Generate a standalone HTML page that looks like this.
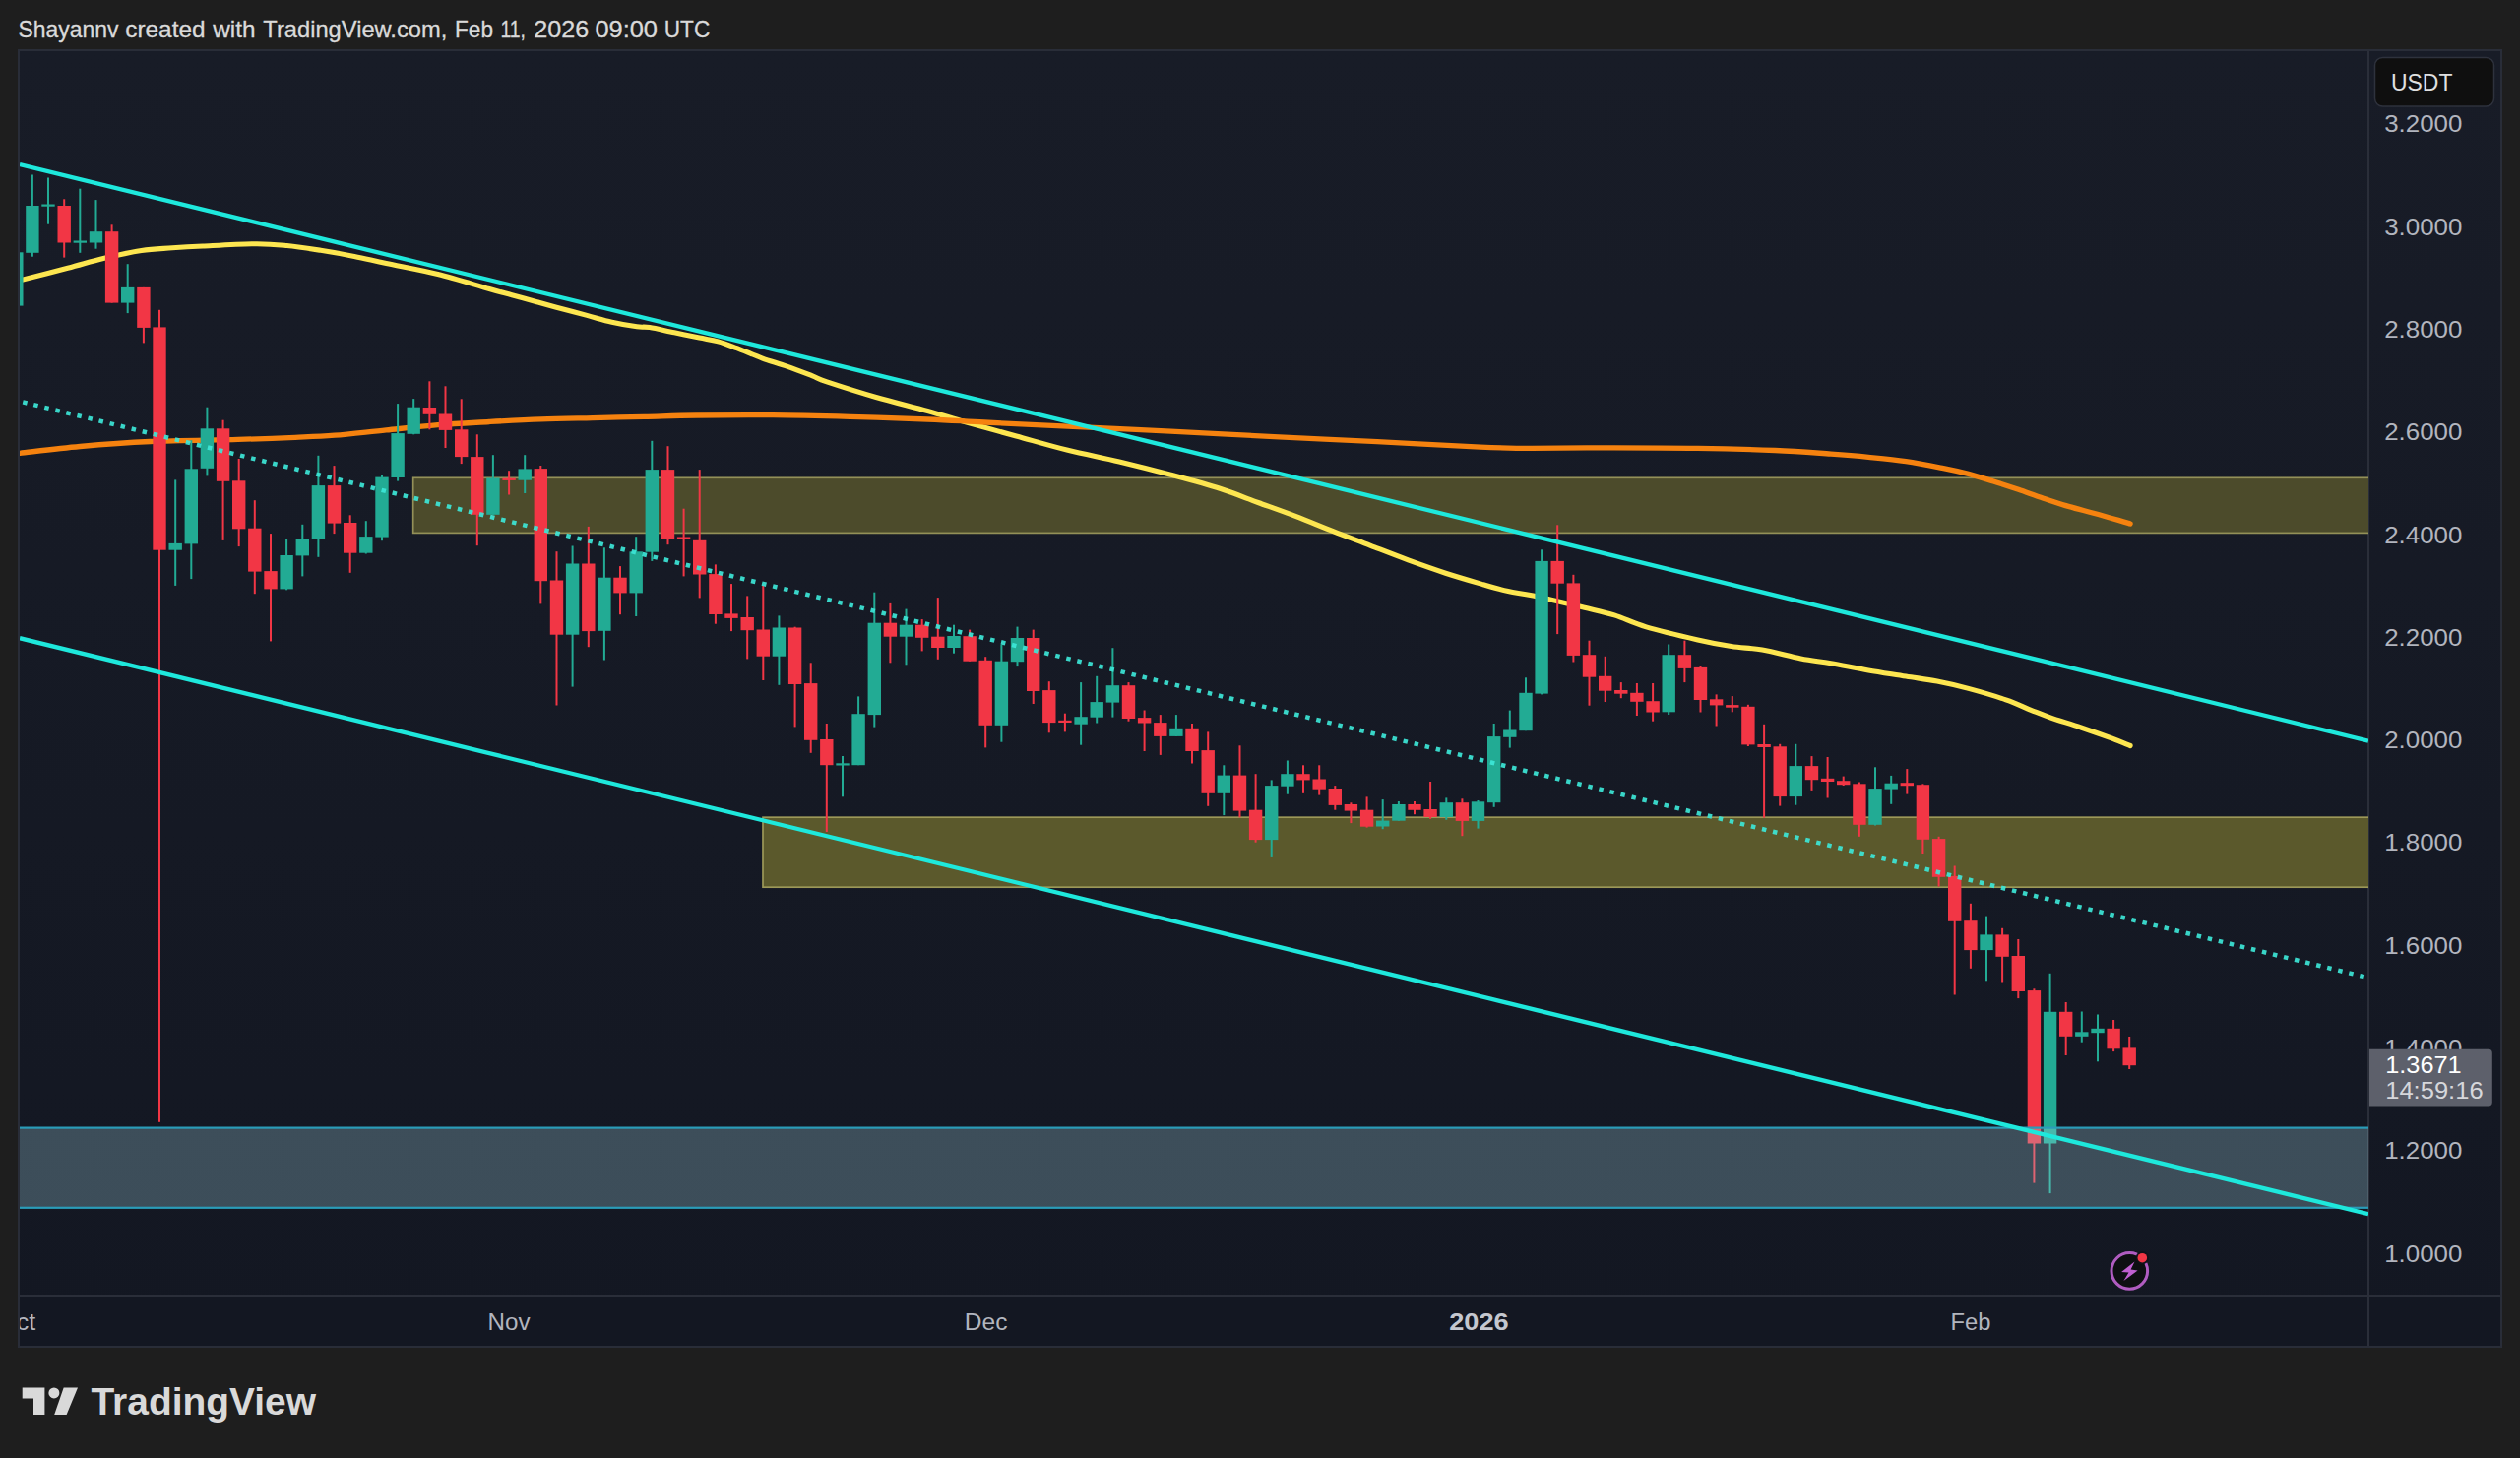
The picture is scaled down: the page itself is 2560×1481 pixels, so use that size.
<!DOCTYPE html>
<html lang="en">
<head>
<meta charset="utf-8">
<title>XRP / USDT chart</title>
<style>
html,body{margin:0;padding:0;background:#1e1e1e;}
body{width:2560px;height:1481px;overflow:hidden;font-family:"Liberation Sans",sans-serif;}
svg{display:block;}
text{font-family:"Liberation Sans",sans-serif;}
</style>
</head>
<body>
<svg width="2560" height="1481" viewBox="0 0 2560 1481">
<defs>
<linearGradient id="bg" x1="0" y1="0" x2="0" y2="1">
<stop offset="0" stop-color="#181c27"/>
<stop offset="1" stop-color="#131722"/>
</linearGradient>
<clipPath id="pane"><rect x="20" y="52" width="2386" height="1264"/></clipPath>
</defs>
<rect x="0" y="0" width="2560" height="1481" fill="#1e1e1e"/>
<!-- header -->
<g font-size="23.6" fill="#dadada" stroke="#dadada" stroke-width="0.3">
<text x="18.5" y="37.8" textLength="102" lengthAdjust="spacingAndGlyphs">Shayannv</text>
<text x="127.2" y="37.8" textLength="81.4" lengthAdjust="spacingAndGlyphs">created</text>
<text x="216.2" y="37.8" textLength="43.3" lengthAdjust="spacingAndGlyphs">with</text>
<text x="267.3" y="37.8" textLength="187" lengthAdjust="spacingAndGlyphs">TradingView.com,</text>
<text x="462" y="37.8" textLength="39" lengthAdjust="spacingAndGlyphs">Feb</text>
<text x="508.5" y="37.8" textLength="25.5" lengthAdjust="spacingAndGlyphs">11,</text>
<text x="542.2" y="37.8" textLength="56" lengthAdjust="spacingAndGlyphs">2026</text>
<text x="604.4" y="37.8" textLength="63.6" lengthAdjust="spacingAndGlyphs">09:00</text>
<text x="674.8" y="37.8" textLength="46.4" lengthAdjust="spacingAndGlyphs">UTC</text>
</g>
<!-- chart frame -->
<rect x="19" y="51" width="2522" height="1317" fill="url(#bg)" stroke="#292d38" stroke-width="2"/>
<rect x="20" y="1316" width="2520" height="51" fill="#131722"/>
<line x1="20" y1="1316" x2="2540" y2="1316" stroke="#2a2e39" stroke-width="2"/>
<line x1="2406" y1="52" x2="2406" y2="1367" stroke="#2a2e39" stroke-width="2"/>

<g clip-path="url(#pane)">
<!-- yellow zones (behind candles) -->
<rect x="419.7" y="485.3" width="1990" height="56.1" fill="#4c4b2b" stroke="#939058" stroke-width="1.7"/>
<rect x="775" y="830.2" width="1640" height="71" fill="#5b592c" stroke="#9c9858" stroke-width="1.7"/>
<!-- MAs -->
<path d="M20.0 284.8C28.1 282.7 54.6 276.0 68.8 272.3C83.0 268.6 92.5 265.5 105.0 262.5C117.5 259.5 132.0 256.3 143.7 254.5C155.4 252.7 164.6 252.6 175.0 251.8C185.4 251.1 191.9 250.7 206.0 250.0C220.1 249.3 245.4 247.8 259.6 247.7C273.9 247.6 280.5 248.4 291.5 249.5C302.5 250.6 314.4 252.5 325.8 254.3C337.2 256.1 348.9 258.2 360.0 260.4C371.1 262.6 378.3 264.5 392.4 267.5C406.5 270.5 427.4 274.2 444.8 278.5C462.2 282.8 484.6 290.0 497.1 293.5C509.6 297.0 511.9 297.5 520.0 299.7C528.0 301.9 538.0 304.6 545.4 306.7C552.8 308.8 555.9 309.7 564.4 312.0C572.9 314.3 586.7 317.9 596.2 320.4C605.7 322.9 613.1 325.3 621.6 327.2C630.1 329.1 640.6 330.9 647.0 331.8C653.4 332.7 653.6 331.6 660.0 332.6C666.4 333.6 676.7 336.1 685.1 337.8C693.5 339.6 703.1 341.6 710.5 343.1C717.9 344.6 723.1 345.1 729.5 346.9C735.9 348.7 741.2 350.9 748.6 353.7C756.0 356.5 765.5 360.7 774.0 363.8C782.5 366.9 790.9 369.1 799.4 372.1C807.9 375.1 818.0 379.0 824.8 381.6C831.6 384.2 829.1 384.2 840.0 387.9C850.9 391.5 872.9 398.6 890.0 403.5C907.1 408.4 927.4 413.3 942.4 417.5C957.4 421.7 965.0 424.2 980.0 428.5C995.0 432.8 1014.9 438.2 1032.4 443.0C1049.9 447.8 1067.3 453.0 1084.8 457.3C1102.2 461.6 1119.6 464.8 1137.1 469.0C1154.5 473.2 1172.3 477.7 1189.5 482.3C1206.7 486.9 1225.2 491.8 1240.0 496.5C1254.8 501.2 1265.4 505.9 1278.1 510.5C1290.8 515.1 1303.5 519.5 1316.2 524.4C1328.9 529.3 1341.6 534.7 1354.3 539.7C1367.0 544.7 1379.7 549.4 1392.4 554.3C1405.1 559.2 1417.8 564.2 1430.5 568.9C1443.2 573.5 1455.9 578.1 1468.6 582.2C1481.3 586.3 1496.1 590.6 1506.7 593.7C1517.3 596.8 1523.6 598.7 1532.1 600.6C1540.6 602.5 1544.8 602.4 1557.5 605.1C1570.2 607.8 1594.8 613.7 1608.6 617.0C1622.3 620.3 1629.4 621.6 1640.0 624.9C1650.6 628.2 1658.3 632.7 1672.4 636.9C1686.5 641.1 1710.4 646.7 1724.8 650.0C1739.2 653.3 1747.9 654.9 1758.8 656.6C1769.7 658.3 1778.4 658.0 1790.2 660.0C1802.0 662.0 1817.9 666.6 1829.5 668.9C1841.1 671.2 1848.6 671.7 1860.0 673.7C1871.4 675.7 1885.4 678.7 1898.1 680.9C1910.8 683.1 1924.6 685.1 1936.2 687.0C1947.8 688.9 1957.3 690.0 1967.9 692.1C1978.5 694.2 1988.1 696.3 1999.7 699.4C2011.3 702.5 2027.2 707.2 2037.8 710.9C2048.4 714.5 2055.8 718.3 2063.2 721.3C2070.6 724.2 2073.7 725.6 2082.2 728.6C2090.7 731.6 2103.4 735.4 2114.0 739.0C2124.6 742.6 2137.3 747.1 2145.7 750.2C2154.0 753.3 2161.0 756.3 2164.1 757.5" fill="none" stroke="#fde650" stroke-width="5.1" stroke-linecap="round" stroke-linejoin="round"/>
<path d="M20.0 460.3C30.2 459.2 59.2 455.5 81.3 453.5C103.4 451.5 125.8 449.7 152.6 448.5C179.3 447.3 217.2 447.1 241.8 446.4C266.4 445.7 283.6 445.0 300.0 444.3C316.4 443.6 324.6 443.4 340.0 442.2C355.4 441.0 374.9 438.6 392.4 436.9C409.9 435.1 427.4 433.1 444.8 431.7C462.2 430.3 479.7 429.5 497.1 428.5C514.6 427.5 532.0 426.5 549.5 425.9C567.0 425.2 584.4 425.0 601.9 424.6C619.4 424.2 636.8 423.7 654.3 423.3C671.8 422.9 684.9 422.3 706.7 422.0C728.5 421.7 759.1 421.5 785.3 421.7C811.5 421.9 837.6 422.6 863.8 423.3C890.0 424.0 919.7 425.1 942.4 426.0C965.1 426.9 976.3 427.8 1000.0 429.0C1023.7 430.2 1053.2 431.7 1084.8 433.2C1116.4 434.7 1154.6 436.4 1189.5 438.1C1224.4 439.8 1259.4 441.9 1294.3 443.6C1329.2 445.4 1364.2 446.9 1399.1 448.6C1434.0 450.4 1477.6 453.0 1503.8 454.1C1530.0 455.2 1533.5 455.3 1556.2 455.4C1578.9 455.5 1611.9 454.8 1640.0 454.8C1668.1 454.8 1697.6 454.9 1724.8 455.4C1752.0 455.8 1780.8 456.6 1803.3 457.5C1825.8 458.4 1844.2 460.0 1860.0 461.1C1875.8 462.2 1885.4 463.0 1898.1 464.3C1910.8 465.6 1923.5 466.8 1936.2 468.7C1948.9 470.6 1963.7 473.6 1974.3 475.7C1984.9 477.8 1991.2 479.2 1999.7 481.4C2008.2 483.6 2016.6 486.4 2025.1 489.0C2033.6 491.6 2042.0 494.4 2050.5 497.3C2059.0 500.2 2067.4 503.4 2075.9 506.2C2084.4 509.0 2092.8 511.9 2101.3 514.4C2109.8 516.9 2118.2 518.9 2126.7 521.2C2135.2 523.5 2145.9 526.6 2152.1 528.4C2158.3 530.2 2162.1 531.4 2164.1 532.0" fill="none" stroke="#f5820f" stroke-width="5.3" stroke-linecap="round" stroke-linejoin="round"/>
<!-- candles -->
<rect x="10.1" y="256.3" width="13.4" height="54.3" fill="#22ab94"/>
<rect x="31.9" y="177.5" width="2.0" height="83.2" fill="#22ab94"/>
<rect x="26.2" y="209.0" width="13.4" height="47.8" fill="#22ab94"/>
<rect x="48.0" y="180.5" width="2.0" height="47.2" fill="#22ab94"/>
<rect x="42.3" y="207.5" width="13.4" height="2.2" fill="#22ab94"/>
<rect x="64.2" y="202.3" width="2.0" height="59.3" fill="#f23645"/>
<rect x="58.5" y="209.0" width="13.4" height="37.5" fill="#f23645"/>
<rect x="80.3" y="191.7" width="2.0" height="65.1" fill="#22ab94"/>
<rect x="74.6" y="244.5" width="13.4" height="2.2" fill="#22ab94"/>
<rect x="96.5" y="203.1" width="2.0" height="49.6" fill="#22ab94"/>
<rect x="90.8" y="235.2" width="13.4" height="11.3" fill="#22ab94"/>
<rect x="112.6" y="228.3" width="2.0" height="79.3" fill="#f23645"/>
<rect x="106.9" y="235.2" width="13.4" height="72.4" fill="#f23645"/>
<rect x="128.7" y="268.2" width="2.0" height="49.9" fill="#22ab94"/>
<rect x="123.0" y="291.9" width="13.4" height="15.7" fill="#22ab94"/>
<rect x="144.9" y="291.9" width="2.0" height="56.5" fill="#f23645"/>
<rect x="139.2" y="291.9" width="13.4" height="41.0" fill="#f23645"/>
<rect x="161.0" y="314.8" width="2.0" height="825.0" fill="#f23645"/>
<rect x="155.3" y="332.4" width="13.4" height="226.3" fill="#f23645"/>
<rect x="177.2" y="487.4" width="2.0" height="107.5" fill="#22ab94"/>
<rect x="171.5" y="551.9" width="13.4" height="6.8" fill="#22ab94"/>
<rect x="193.3" y="447.2" width="2.0" height="140.9" fill="#22ab94"/>
<rect x="187.6" y="476.3" width="13.4" height="76.1" fill="#22ab94"/>
<rect x="209.4" y="413.7" width="2.0" height="69.7" fill="#22ab94"/>
<rect x="203.7" y="435.3" width="13.4" height="40.5" fill="#22ab94"/>
<rect x="225.6" y="426.7" width="2.0" height="122.2" fill="#f23645"/>
<rect x="219.9" y="435.3" width="13.4" height="53.5" fill="#f23645"/>
<rect x="241.7" y="466.0" width="2.0" height="89.1" fill="#f23645"/>
<rect x="236.0" y="488.3" width="13.4" height="49.0" fill="#f23645"/>
<rect x="257.8" y="508.2" width="2.0" height="95.0" fill="#f23645"/>
<rect x="252.1" y="536.7" width="13.4" height="43.9" fill="#f23645"/>
<rect x="274.0" y="542.1" width="2.0" height="109.3" fill="#f23645"/>
<rect x="268.3" y="580.1" width="13.4" height="18.3" fill="#f23645"/>
<rect x="290.1" y="547.1" width="2.0" height="52.2" fill="#22ab94"/>
<rect x="284.4" y="564.0" width="13.4" height="34.4" fill="#22ab94"/>
<rect x="306.3" y="532.8" width="2.0" height="52.6" fill="#22ab94"/>
<rect x="300.6" y="547.1" width="13.4" height="17.3" fill="#22ab94"/>
<rect x="322.4" y="462.8" width="2.0" height="103.0" fill="#22ab94"/>
<rect x="316.7" y="493.1" width="13.4" height="54.5" fill="#22ab94"/>
<rect x="338.5" y="473.1" width="2.0" height="69.0" fill="#f23645"/>
<rect x="332.8" y="493.1" width="13.4" height="38.5" fill="#f23645"/>
<rect x="354.7" y="523.3" width="2.0" height="58.5" fill="#f23645"/>
<rect x="349.0" y="531.0" width="13.4" height="30.7" fill="#f23645"/>
<rect x="370.8" y="529.2" width="2.0" height="33.3" fill="#22ab94"/>
<rect x="365.1" y="545.1" width="13.4" height="16.6" fill="#22ab94"/>
<rect x="387.0" y="482.0" width="2.0" height="67.2" fill="#22ab94"/>
<rect x="381.3" y="484.6" width="13.4" height="61.0" fill="#22ab94"/>
<rect x="403.1" y="410.1" width="2.0" height="78.5" fill="#22ab94"/>
<rect x="397.4" y="440.1" width="13.4" height="44.9" fill="#22ab94"/>
<rect x="419.2" y="405.1" width="2.0" height="36.2" fill="#22ab94"/>
<rect x="413.5" y="413.7" width="13.4" height="27.1" fill="#22ab94"/>
<rect x="435.4" y="387.3" width="2.0" height="49.0" fill="#f23645"/>
<rect x="429.7" y="414.0" width="13.4" height="6.8" fill="#f23645"/>
<rect x="451.5" y="392.3" width="2.0" height="62.7" fill="#f23645"/>
<rect x="445.8" y="420.5" width="13.4" height="16.4" fill="#f23645"/>
<rect x="467.7" y="405.3" width="2.0" height="65.8" fill="#f23645"/>
<rect x="462.0" y="436.3" width="13.4" height="27.8" fill="#f23645"/>
<rect x="483.8" y="441.3" width="2.0" height="112.9" fill="#f23645"/>
<rect x="478.1" y="464.1" width="13.4" height="58.7" fill="#f23645"/>
<rect x="499.9" y="462.2" width="2.0" height="60.6" fill="#22ab94"/>
<rect x="494.2" y="485.5" width="13.4" height="37.3" fill="#22ab94"/>
<rect x="516.1" y="478.2" width="2.0" height="24.3" fill="#f23645"/>
<rect x="510.4" y="485.7" width="13.4" height="2.2" fill="#f23645"/>
<rect x="532.2" y="462.2" width="2.0" height="38.8" fill="#22ab94"/>
<rect x="526.5" y="476.4" width="13.4" height="11.3" fill="#22ab94"/>
<rect x="548.3" y="473.0" width="2.0" height="140.4" fill="#f23645"/>
<rect x="542.6" y="476.1" width="13.4" height="114.1" fill="#f23645"/>
<rect x="564.5" y="560.2" width="2.0" height="156.3" fill="#f23645"/>
<rect x="558.8" y="589.5" width="13.4" height="55.2" fill="#f23645"/>
<rect x="580.6" y="554.5" width="2.0" height="143.1" fill="#22ab94"/>
<rect x="574.9" y="572.5" width="13.4" height="72.2" fill="#22ab94"/>
<rect x="596.8" y="534.9" width="2.0" height="122.3" fill="#f23645"/>
<rect x="591.1" y="572.5" width="13.4" height="68.6" fill="#f23645"/>
<rect x="612.9" y="556.3" width="2.0" height="114.2" fill="#22ab94"/>
<rect x="607.2" y="586.7" width="13.4" height="54.1" fill="#22ab94"/>
<rect x="629.0" y="575.1" width="2.0" height="49.1" fill="#f23645"/>
<rect x="623.3" y="586.7" width="13.4" height="15.7" fill="#f23645"/>
<rect x="645.2" y="545.2" width="2.0" height="80.8" fill="#22ab94"/>
<rect x="639.5" y="560.3" width="13.4" height="42.1" fill="#22ab94"/>
<rect x="661.3" y="447.8" width="2.0" height="122.1" fill="#22ab94"/>
<rect x="655.6" y="477.1" width="13.4" height="83.6" fill="#22ab94"/>
<rect x="677.5" y="453.2" width="2.0" height="100.0" fill="#f23645"/>
<rect x="671.8" y="477.1" width="13.4" height="70.6" fill="#f23645"/>
<rect x="693.6" y="516.7" width="2.0" height="68.7" fill="#f23645"/>
<rect x="687.9" y="545.5" width="13.4" height="2.2" fill="#f23645"/>
<rect x="709.7" y="477.1" width="2.0" height="130.3" fill="#f23645"/>
<rect x="704.0" y="548.8" width="13.4" height="34.7" fill="#f23645"/>
<rect x="725.9" y="573.4" width="2.0" height="60.3" fill="#f23645"/>
<rect x="720.2" y="583.1" width="13.4" height="40.9" fill="#f23645"/>
<rect x="742.0" y="593.1" width="2.0" height="48.0" fill="#f23645"/>
<rect x="736.3" y="623.4" width="13.4" height="4.5" fill="#f23645"/>
<rect x="758.2" y="605.4" width="2.0" height="64.0" fill="#f23645"/>
<rect x="752.5" y="627.0" width="13.4" height="13.2" fill="#f23645"/>
<rect x="774.3" y="594.0" width="2.0" height="97.0" fill="#f23645"/>
<rect x="768.6" y="639.5" width="13.4" height="27.2" fill="#f23645"/>
<rect x="790.4" y="625.4" width="2.0" height="70.4" fill="#22ab94"/>
<rect x="784.7" y="637.5" width="13.4" height="29.2" fill="#22ab94"/>
<rect x="806.6" y="636.7" width="2.0" height="101.7" fill="#f23645"/>
<rect x="800.9" y="637.5" width="13.4" height="57.5" fill="#f23645"/>
<rect x="822.7" y="673.3" width="2.0" height="91.5" fill="#f23645"/>
<rect x="817.0" y="694.1" width="13.4" height="57.7" fill="#f23645"/>
<rect x="838.8" y="735.0" width="2.0" height="110.0" fill="#f23645"/>
<rect x="833.1" y="751.0" width="13.4" height="26.2" fill="#f23645"/>
<rect x="855.0" y="768.0" width="2.0" height="41.3" fill="#22ab94"/>
<rect x="849.3" y="775.3" width="13.4" height="2.2" fill="#22ab94"/>
<rect x="871.1" y="707.4" width="2.0" height="69.8" fill="#22ab94"/>
<rect x="865.4" y="725.2" width="13.4" height="52.0" fill="#22ab94"/>
<rect x="887.3" y="601.7" width="2.0" height="136.9" fill="#22ab94"/>
<rect x="881.6" y="632.7" width="13.4" height="93.4" fill="#22ab94"/>
<rect x="903.4" y="612.9" width="2.0" height="60.4" fill="#f23645"/>
<rect x="897.7" y="632.7" width="13.4" height="14.0" fill="#f23645"/>
<rect x="919.5" y="618.6" width="2.0" height="56.7" fill="#22ab94"/>
<rect x="913.8" y="634.7" width="13.4" height="12.0" fill="#22ab94"/>
<rect x="935.7" y="629.1" width="2.0" height="32.3" fill="#f23645"/>
<rect x="930.0" y="634.7" width="13.4" height="13.1" fill="#f23645"/>
<rect x="951.8" y="607.1" width="2.0" height="62.7" fill="#f23645"/>
<rect x="946.1" y="646.7" width="13.4" height="11.3" fill="#f23645"/>
<rect x="968.0" y="634.7" width="2.0" height="29.0" fill="#22ab94"/>
<rect x="962.3" y="646.0" width="13.4" height="12.0" fill="#22ab94"/>
<rect x="984.1" y="639.6" width="2.0" height="32.1" fill="#f23645"/>
<rect x="978.4" y="646.2" width="13.4" height="25.5" fill="#f23645"/>
<rect x="1000.2" y="667.2" width="2.0" height="92.2" fill="#f23645"/>
<rect x="994.5" y="670.8" width="13.4" height="66.0" fill="#f23645"/>
<rect x="1016.4" y="654.8" width="2.0" height="98.9" fill="#22ab94"/>
<rect x="1010.7" y="671.7" width="13.4" height="65.1" fill="#22ab94"/>
<rect x="1032.5" y="636.6" width="2.0" height="40.5" fill="#22ab94"/>
<rect x="1026.8" y="648.0" width="13.4" height="24.2" fill="#22ab94"/>
<rect x="1048.7" y="639.6" width="2.0" height="75.4" fill="#f23645"/>
<rect x="1043.0" y="648.0" width="13.4" height="54.0" fill="#f23645"/>
<rect x="1064.8" y="692.2" width="2.0" height="52.1" fill="#f23645"/>
<rect x="1059.1" y="701.1" width="13.4" height="33.0" fill="#f23645"/>
<rect x="1080.9" y="724.7" width="2.0" height="18.7" fill="#f23645"/>
<rect x="1075.2" y="731.8" width="13.4" height="2.2" fill="#f23645"/>
<rect x="1097.1" y="693.1" width="2.0" height="63.6" fill="#22ab94"/>
<rect x="1091.4" y="728.2" width="13.4" height="7.5" fill="#22ab94"/>
<rect x="1113.2" y="686.8" width="2.0" height="47.7" fill="#22ab94"/>
<rect x="1107.5" y="713.1" width="13.4" height="15.6" fill="#22ab94"/>
<rect x="1129.4" y="658.2" width="2.0" height="70.4" fill="#22ab94"/>
<rect x="1123.7" y="696.2" width="13.4" height="17.4" fill="#22ab94"/>
<rect x="1145.5" y="693.1" width="2.0" height="39.6" fill="#f23645"/>
<rect x="1139.8" y="696.2" width="13.4" height="33.8" fill="#f23645"/>
<rect x="1161.6" y="721.5" width="2.0" height="41.5" fill="#f23645"/>
<rect x="1155.9" y="729.1" width="13.4" height="5.4" fill="#f23645"/>
<rect x="1177.8" y="726.1" width="2.0" height="40.8" fill="#f23645"/>
<rect x="1172.1" y="734.1" width="13.4" height="13.8" fill="#f23645"/>
<rect x="1193.9" y="726.1" width="2.0" height="21.8" fill="#22ab94"/>
<rect x="1188.2" y="739.8" width="13.4" height="8.1" fill="#22ab94"/>
<rect x="1210.0" y="735.0" width="2.0" height="40.5" fill="#f23645"/>
<rect x="1204.3" y="739.8" width="13.4" height="23.2" fill="#f23645"/>
<rect x="1226.2" y="743.4" width="2.0" height="75.4" fill="#f23645"/>
<rect x="1220.5" y="762.1" width="13.4" height="43.7" fill="#f23645"/>
<rect x="1242.3" y="777.3" width="2.0" height="50.8" fill="#22ab94"/>
<rect x="1236.6" y="787.6" width="13.4" height="18.2" fill="#22ab94"/>
<rect x="1258.5" y="757.3" width="2.0" height="73.1" fill="#f23645"/>
<rect x="1252.8" y="787.6" width="13.4" height="36.0" fill="#f23645"/>
<rect x="1274.6" y="786.2" width="2.0" height="69.5" fill="#f23645"/>
<rect x="1268.9" y="822.7" width="13.4" height="30.4" fill="#f23645"/>
<rect x="1290.7" y="792.4" width="2.0" height="78.5" fill="#22ab94"/>
<rect x="1285.0" y="798.1" width="13.4" height="55.0" fill="#22ab94"/>
<rect x="1306.9" y="772.5" width="2.0" height="34.2" fill="#22ab94"/>
<rect x="1301.2" y="786.2" width="13.4" height="12.5" fill="#22ab94"/>
<rect x="1323.0" y="777.3" width="2.0" height="28.5" fill="#f23645"/>
<rect x="1317.3" y="786.2" width="13.4" height="6.2" fill="#f23645"/>
<rect x="1339.2" y="777.3" width="2.0" height="30.3" fill="#f23645"/>
<rect x="1333.5" y="791.5" width="13.4" height="10.2" fill="#f23645"/>
<rect x="1355.3" y="798.1" width="2.0" height="24.6" fill="#f23645"/>
<rect x="1349.6" y="801.0" width="13.4" height="16.9" fill="#f23645"/>
<rect x="1371.4" y="815.3" width="2.0" height="20.8" fill="#f23645"/>
<rect x="1365.7" y="817.0" width="13.4" height="6.6" fill="#f23645"/>
<rect x="1387.6" y="809.4" width="2.0" height="31.2" fill="#f23645"/>
<rect x="1381.9" y="822.7" width="13.4" height="17.0" fill="#f23645"/>
<rect x="1403.7" y="812.1" width="2.0" height="30.1" fill="#22ab94"/>
<rect x="1398.0" y="833.6" width="13.4" height="5.9" fill="#22ab94"/>
<rect x="1419.9" y="814.0" width="2.0" height="19.7" fill="#22ab94"/>
<rect x="1414.2" y="817.0" width="13.4" height="16.7" fill="#22ab94"/>
<rect x="1436.0" y="814.0" width="2.0" height="13.2" fill="#f23645"/>
<rect x="1430.3" y="817.0" width="13.4" height="5.8" fill="#f23645"/>
<rect x="1452.1" y="794.0" width="2.0" height="37.8" fill="#f23645"/>
<rect x="1446.4" y="822.0" width="13.4" height="8.0" fill="#f23645"/>
<rect x="1468.3" y="810.4" width="2.0" height="22.3" fill="#22ab94"/>
<rect x="1462.6" y="815.2" width="13.4" height="14.8" fill="#22ab94"/>
<rect x="1484.4" y="811.3" width="2.0" height="37.9" fill="#f23645"/>
<rect x="1478.7" y="815.2" width="13.4" height="18.7" fill="#f23645"/>
<rect x="1500.5" y="813.0" width="2.0" height="28.6" fill="#22ab94"/>
<rect x="1494.8" y="814.3" width="13.4" height="19.6" fill="#22ab94"/>
<rect x="1516.7" y="735.0" width="2.0" height="84.8" fill="#22ab94"/>
<rect x="1511.0" y="748.1" width="13.4" height="67.1" fill="#22ab94"/>
<rect x="1532.8" y="721.6" width="2.0" height="38.0" fill="#22ab94"/>
<rect x="1527.1" y="741.5" width="13.4" height="7.3" fill="#22ab94"/>
<rect x="1549.0" y="688.3" width="2.0" height="53.9" fill="#22ab94"/>
<rect x="1543.3" y="703.8" width="13.4" height="38.4" fill="#22ab94"/>
<rect x="1565.1" y="558.3" width="2.0" height="147.1" fill="#22ab94"/>
<rect x="1559.4" y="569.9" width="13.4" height="134.7" fill="#22ab94"/>
<rect x="1581.2" y="533.3" width="2.0" height="110.8" fill="#f23645"/>
<rect x="1575.5" y="569.9" width="13.4" height="22.8" fill="#f23645"/>
<rect x="1597.4" y="583.8" width="2.0" height="88.7" fill="#f23645"/>
<rect x="1591.7" y="592.4" width="13.4" height="73.5" fill="#f23645"/>
<rect x="1613.5" y="650.7" width="2.0" height="66.0" fill="#f23645"/>
<rect x="1607.8" y="665.2" width="13.4" height="22.5" fill="#f23645"/>
<rect x="1629.7" y="666.8" width="2.0" height="46.2" fill="#f23645"/>
<rect x="1624.0" y="686.8" width="13.4" height="14.9" fill="#f23645"/>
<rect x="1645.8" y="693.1" width="2.0" height="16.1" fill="#f23645"/>
<rect x="1640.1" y="701.0" width="13.4" height="3.7" fill="#f23645"/>
<rect x="1661.9" y="694.0" width="2.0" height="33.0" fill="#f23645"/>
<rect x="1656.2" y="703.8" width="13.4" height="9.0" fill="#f23645"/>
<rect x="1678.1" y="694.0" width="2.0" height="38.7" fill="#f23645"/>
<rect x="1672.4" y="712.2" width="13.4" height="11.3" fill="#f23645"/>
<rect x="1694.2" y="654.5" width="2.0" height="71.5" fill="#22ab94"/>
<rect x="1688.5" y="665.2" width="13.4" height="58.1" fill="#22ab94"/>
<rect x="1710.4" y="650.7" width="2.0" height="42.4" fill="#f23645"/>
<rect x="1704.7" y="665.2" width="13.4" height="13.7" fill="#f23645"/>
<rect x="1726.5" y="676.1" width="2.0" height="47.4" fill="#f23645"/>
<rect x="1720.8" y="677.9" width="13.4" height="33.1" fill="#f23645"/>
<rect x="1742.6" y="705.4" width="2.0" height="32.1" fill="#f23645"/>
<rect x="1736.9" y="710.3" width="13.4" height="6.1" fill="#f23645"/>
<rect x="1758.8" y="707.1" width="2.0" height="16.2" fill="#f23645"/>
<rect x="1753.1" y="716.1" width="13.4" height="2.6" fill="#f23645"/>
<rect x="1774.9" y="715.8" width="2.0" height="42.2" fill="#f23645"/>
<rect x="1769.2" y="717.8" width="13.4" height="38.6" fill="#f23645"/>
<rect x="1791.1" y="735.8" width="2.0" height="94.9" fill="#f23645"/>
<rect x="1785.4" y="756.0" width="13.4" height="3.0" fill="#f23645"/>
<rect x="1807.2" y="755.8" width="2.0" height="62.8" fill="#f23645"/>
<rect x="1801.5" y="758.3" width="13.4" height="50.8" fill="#f23645"/>
<rect x="1823.3" y="755.8" width="2.0" height="61.9" fill="#22ab94"/>
<rect x="1817.6" y="778.1" width="13.4" height="31.0" fill="#22ab94"/>
<rect x="1839.5" y="768.1" width="2.0" height="34.8" fill="#f23645"/>
<rect x="1833.8" y="778.1" width="13.4" height="14.1" fill="#f23645"/>
<rect x="1855.6" y="769.0" width="2.0" height="41.5" fill="#f23645"/>
<rect x="1849.9" y="790.8" width="13.4" height="3.2" fill="#f23645"/>
<rect x="1871.7" y="788.6" width="2.0" height="9.4" fill="#f23645"/>
<rect x="1866.0" y="793.2" width="13.4" height="4.0" fill="#f23645"/>
<rect x="1887.9" y="794.5" width="2.0" height="55.3" fill="#f23645"/>
<rect x="1882.2" y="796.3" width="13.4" height="41.5" fill="#f23645"/>
<rect x="1904.0" y="779.3" width="2.0" height="59.2" fill="#22ab94"/>
<rect x="1898.3" y="801.1" width="13.4" height="36.7" fill="#22ab94"/>
<rect x="1920.2" y="787.9" width="2.0" height="28.9" fill="#22ab94"/>
<rect x="1914.5" y="795.7" width="13.4" height="5.9" fill="#22ab94"/>
<rect x="1936.3" y="781.1" width="2.0" height="25.5" fill="#f23645"/>
<rect x="1930.6" y="795.2" width="13.4" height="3.0" fill="#f23645"/>
<rect x="1952.4" y="796.3" width="2.0" height="70.7" fill="#f23645"/>
<rect x="1946.7" y="797.2" width="13.4" height="55.6" fill="#f23645"/>
<rect x="1968.6" y="849.8" width="2.0" height="50.8" fill="#f23645"/>
<rect x="1962.9" y="852.1" width="13.4" height="38.7" fill="#f23645"/>
<rect x="1984.7" y="879.5" width="2.0" height="131.0" fill="#f23645"/>
<rect x="1979.0" y="889.9" width="13.4" height="45.9" fill="#f23645"/>
<rect x="2000.9" y="917.8" width="2.0" height="66.0" fill="#f23645"/>
<rect x="1995.2" y="935.2" width="13.4" height="29.9" fill="#f23645"/>
<rect x="2017.0" y="930.6" width="2.0" height="65.7" fill="#22ab94"/>
<rect x="2011.3" y="949.4" width="13.4" height="15.7" fill="#22ab94"/>
<rect x="2033.1" y="942.8" width="2.0" height="54.7" fill="#f23645"/>
<rect x="2027.4" y="949.4" width="13.4" height="22.4" fill="#f23645"/>
<rect x="2049.3" y="954.0" width="2.0" height="60.1" fill="#f23645"/>
<rect x="2043.6" y="971.0" width="13.4" height="36.0" fill="#f23645"/>
<rect x="2065.4" y="1004.3" width="2.0" height="197.3" fill="#f23645"/>
<rect x="2059.7" y="1006.1" width="13.4" height="155.4" fill="#f23645"/>
<rect x="2081.6" y="988.8" width="2.0" height="223.3" fill="#22ab94"/>
<rect x="2075.9" y="1027.8" width="13.4" height="133.7" fill="#22ab94"/>
<rect x="2097.7" y="1018.0" width="2.0" height="54.0" fill="#f23645"/>
<rect x="2092.0" y="1027.8" width="13.4" height="25.0" fill="#f23645"/>
<rect x="2113.8" y="1027.5" width="2.0" height="31.2" fill="#22ab94"/>
<rect x="2108.1" y="1048.3" width="13.4" height="4.5" fill="#22ab94"/>
<rect x="2130.0" y="1030.5" width="2.0" height="47.8" fill="#22ab94"/>
<rect x="2124.3" y="1044.8" width="13.4" height="4.4" fill="#22ab94"/>
<rect x="2146.1" y="1036.0" width="2.0" height="32.1" fill="#f23645"/>
<rect x="2140.4" y="1044.8" width="13.4" height="20.5" fill="#f23645"/>
<rect x="2162.2" y="1053.0" width="2.0" height="33.0" fill="#f23645"/>
<rect x="2156.5" y="1064.4" width="13.4" height="17.8" fill="#f23645"/>
<!-- blue zone (over candles) -->
<rect x="18" y="1145.6" width="2392" height="81.2" fill="rgba(170,219,234,0.28)" stroke="#2a9cb8" stroke-width="2.2"/>
<!-- channel (on top) -->
<line x1="20" y1="167.1" x2="2406" y2="752.6" stroke="#1ee8dc" stroke-width="4.3"/>
<line x1="23.2" y1="408.4" x2="2406" y2="993.2" stroke="#3de6d7" stroke-opacity="0.92" stroke-width="4.5" stroke-dasharray="4.5 6.87"/>
<line x1="20" y1="648.2" x2="2406" y2="1233.2" stroke="#1ee8dc" stroke-width="4.3"/>
<!-- flash icon -->
<circle cx="2163.3" cy="1290.9" r="18.3" fill="#0e0f12" stroke="#b05cc0" stroke-width="3"/>
<polygon points="2168.5,1281.6 2155.1,1291.9 2162.5,1292.5 2157.4,1300.9 2171.6,1290.5 2164.6,1289.4" fill="#c060d0"/>
<circle cx="2176.3" cy="1277.7" r="6.6" fill="#10121a"/>
<circle cx="2176.3" cy="1277.7" r="4.8" fill="#f23645"/>
</g>

<!-- price axis -->
<g font-size="23" fill="#b2b5be">
<text x="2422.2" y="134.2" textLength="79.2" lengthAdjust="spacingAndGlyphs">3.2000</text>
<text x="2422.2" y="238.5" textLength="79.2" lengthAdjust="spacingAndGlyphs">3.0000</text>
<text x="2422.2" y="342.8" textLength="79.2" lengthAdjust="spacingAndGlyphs">2.8000</text>
<text x="2422.2" y="447.1" textLength="79.2" lengthAdjust="spacingAndGlyphs">2.6000</text>
<text x="2422.2" y="551.5" textLength="79.2" lengthAdjust="spacingAndGlyphs">2.4000</text>
<text x="2422.2" y="655.8" textLength="79.2" lengthAdjust="spacingAndGlyphs">2.2000</text>
<text x="2422.2" y="760.1" textLength="79.2" lengthAdjust="spacingAndGlyphs">2.0000</text>
<text x="2422.2" y="864.4" textLength="79.2" lengthAdjust="spacingAndGlyphs">1.8000</text>
<text x="2422.2" y="968.7" textLength="79.2" lengthAdjust="spacingAndGlyphs">1.6000</text>
<text x="2422.2" y="1073.1" textLength="79.2" lengthAdjust="spacingAndGlyphs">1.4000</text>
<text x="2422.2" y="1177.4" textLength="79.2" lengthAdjust="spacingAndGlyphs">1.2000</text>
<text x="2422.2" y="1281.7" textLength="79.2" lengthAdjust="spacingAndGlyphs">1.0000</text>
</g>
<rect x="2412.5" y="58.5" width="121" height="49.5" rx="8" ry="8" fill="#0f0f0f" stroke="#2e323d" stroke-width="1.5"/>
<text x="2429" y="91.6" font-size="24" fill="#e0e0e0" textLength="62.4" lengthAdjust="spacingAndGlyphs">USDT</text>
<!-- last price label -->
<path d="M2407 1065.7H2527.8a4 4 0 0 1 4 4V1119.6a4 4 0 0 1 -4 4H2407Z" fill="#5d606b"/>
<text x="2423.2" y="1089.8" font-size="23" fill="#ffffff" textLength="77.5" lengthAdjust="spacingAndGlyphs">1.3671</text>
<text x="2423.2" y="1115.9" font-size="23" fill="#d6d7db" textLength="99.4" lengthAdjust="spacingAndGlyphs">14:59:16</text>

<!-- time axis -->
<g font-size="23" fill="#b2b5be">
<clipPath id="tclip"><rect x="20" y="1317" width="2386" height="50"/></clipPath>
<g clip-path="url(#tclip)">
<text x="-2.6" y="1351.2" textLength="38.9" lengthAdjust="spacingAndGlyphs">Oct</text>
</g>
<text x="495.5" y="1351.2" textLength="43" lengthAdjust="spacingAndGlyphs">Nov</text>
<text x="979.8" y="1351.2" textLength="43.6" lengthAdjust="spacingAndGlyphs">Dec</text>
<text x="1472.2" y="1351.2" font-weight="bold" fill="#c4c7cf" textLength="60.5" lengthAdjust="spacingAndGlyphs">2026</text>
<text x="1981.6" y="1351.2" textLength="41" lengthAdjust="spacingAndGlyphs">Feb</text>
</g>

<!-- TradingView logo -->
<g fill="#d9d9d9">
<path d="M22.7 1409.4H45.4V1437.1H34V1420.4H22.7Z"/>
<circle cx="54.9" cy="1414.9" r="5.5"/>
<path d="M64.7 1409.4H79L67.6 1437.1H55.2Z"/>
<text x="92.5" y="1437.1" font-size="39.5" font-weight="bold" textLength="228.5" lengthAdjust="spacingAndGlyphs">TradingView</text>
</g>
</svg>
</body>
</html>
